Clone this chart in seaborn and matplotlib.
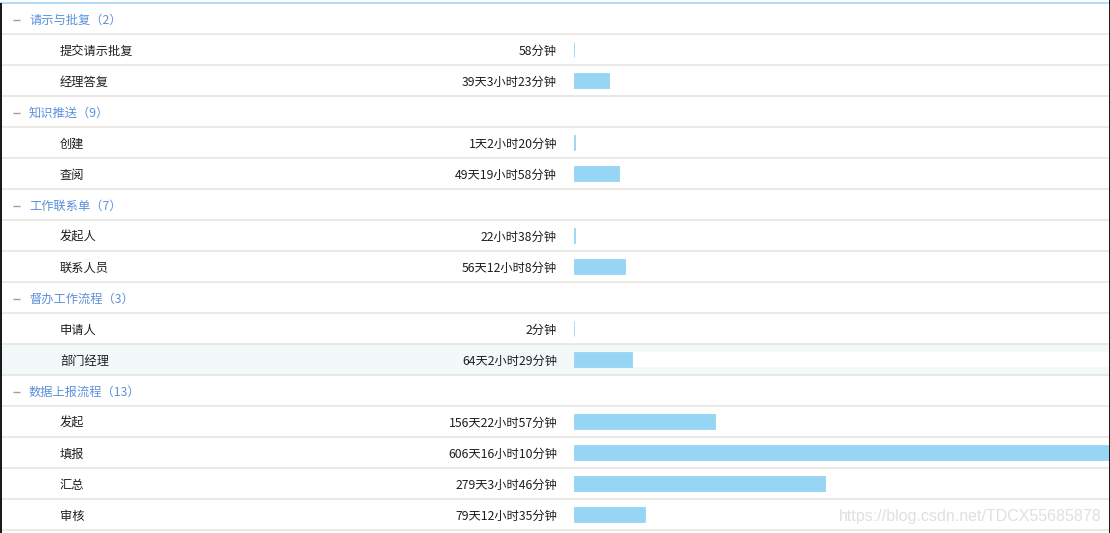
import re
import matplotlib
matplotlib.use("Agg")
import matplotlib.pyplot as plt
from matplotlib.patches import Rectangle
import pandas as pd
import seaborn as sns

# ---------------- data ----------------
groups = ["请示与批复", "知识推送", "工作联系单", "督办工作流程", "数据上报流程"]
group_counts = [2, 9, 7, 3, 13]
group_items = [
    ["提交请示批复", "经理答复"],
    ["创建", "查阅"],
    ["发起人", "联系人员"],
    ["申请人", "部门经理"],
    ["发起", "填报", "汇总", "审核"],
]
durations = [
    ["58分钟", "39天3小时23分钟"],
    ["1天2小时20分钟", "49天19小时58分钟"],
    ["22小时38分钟", "56天12小时8分钟"],
    ["2分钟", "64天2小时29分钟"],
    ["156天22小时57分钟", "606天16小时10分钟", "279天3小时46分钟", "79天12小时35分钟"],
]
highlight_item = "部门经理"
watermark = "https://blog.csdn.net/TDCX55685878"


def to_days(s):
    d = re.search(r"(\d+)天", s)
    h = re.search(r"(\d+)小时", s)
    m = re.search(r"(\d+)分钟", s)
    return (int(d.group(1)) if d else 0) + (int(h.group(1)) if h else 0) / 24 + (int(m.group(1)) if m else 0) / 1440


# ---------------- layout ----------------
sns.set_theme(style="white")
plt.rcParams["font.family"] = ["Noto Sans CJK SC", "DejaVu Sans"]

W, H = 1110, 533
fig = plt.figure(figsize=(W / 100, H / 100), dpi=100)
fig.patch.set_facecolor("white")

tab = fig.add_axes([0, 0, 1, 1])
tab.set_xlim(0, W)
tab.set_ylim(H, 0)
tab.axis("off")

row_h = 31
top = 3
line_col = "#e6e6de"
bar_col = "#97d5f5"

rows = []  # (label, kind, text)
for g, c, items, durs in zip(groups, group_counts, group_items, durations):
    rows.append((g, "header", f"{g}（{c}）"))
    for it, du in zip(items, durs):
        rows.append((it, "item", du))

n = len(rows)
# highlighted row background
for i, (lab, kind, txt) in enumerate(rows):
    y0 = top + i * row_h
    if lab == highlight_item:
        tab.add_patch(Rectangle((0, y0), W, row_h, facecolor="#f3f9f9", edgecolor="none", zorder=0))
        tab.add_patch(Rectangle((574, y0 + 8), W - 574, 15, facecolor="white", edgecolor="none", zorder=0.5))

# separators
for i in range(1, n + 1):
    y = top + i * row_h
    tab.plot([0, W], [y, y], color=line_col, lw=1.2, zorder=1, solid_capstyle="butt")

# top line & borders
tab.add_patch(Rectangle((0, 1.5), W, 2.5, facecolor="#b5dcf6", edgecolor="none", zorder=2))
tab.add_patch(Rectangle((0, 3), 1.6, H, facecolor="#1a1a1a", edgecolor="none", zorder=5))
tab.add_patch(Rectangle((1108.6, 0), 1.5, H, facecolor="#1a1a1a", edgecolor="none", zorder=5))

fs = 8.8
for i, (lab, kind, txt) in enumerate(rows):
    yc = top + i * row_h + row_h / 2 + 1.5
    if kind == "header":
        tab.plot([12.5, 19.5], [yc, yc], color="#a0a0a0", lw=1.0, zorder=3, solid_capstyle="butt")
        tab.text(29, yc, txt, color="#5b8fdc", fontsize=fs, va="center", ha="left", zorder=3)
    else:
        tab.text(60, yc, lab, color="#1e1e1e", fontsize=fs, va="center", ha="left", zorder=3)
        tab.text(557, yc, txt, color="#1e1e1e", fontsize=fs, va="center", ha="right", zorder=3)

# ---------------- bars ----------------
item_labels = [r[0] for r in rows if r[1] == "item"]
item_days = [to_days(r[2]) for r in rows if r[1] == "item"]
df = pd.DataFrame({"row": item_labels, "days": item_days})
order = [r[0] for r in rows]

bx0, bx1 = 574, 1108.6
bax = fig.add_axes([bx0 / W, (H - (top + n * row_h)) / H, (bx1 - bx0) / W, n * row_h / H])
bax.patch.set_alpha(0)
sns.barplot(data=df, x="days", y="row", order=order, orient="h", color=bar_col,
            saturation=1, width=0.485, errorbar=None, edgecolor=bar_col, linewidth=0.6, ax=bax)
bax.set_xlim(0, (bx1 - bx0) / 0.8983)
bax.set_ylim(n - 0.5, -0.5)
bax.axis("off")

fig.text(839 / W, 1 - 516 / H, watermark, fontsize=11.55, color="#e0e0e0", family="Liberation Sans",
         ha="left", va="center", zorder=10)

fig.savefig("out.png", dpi=100)
